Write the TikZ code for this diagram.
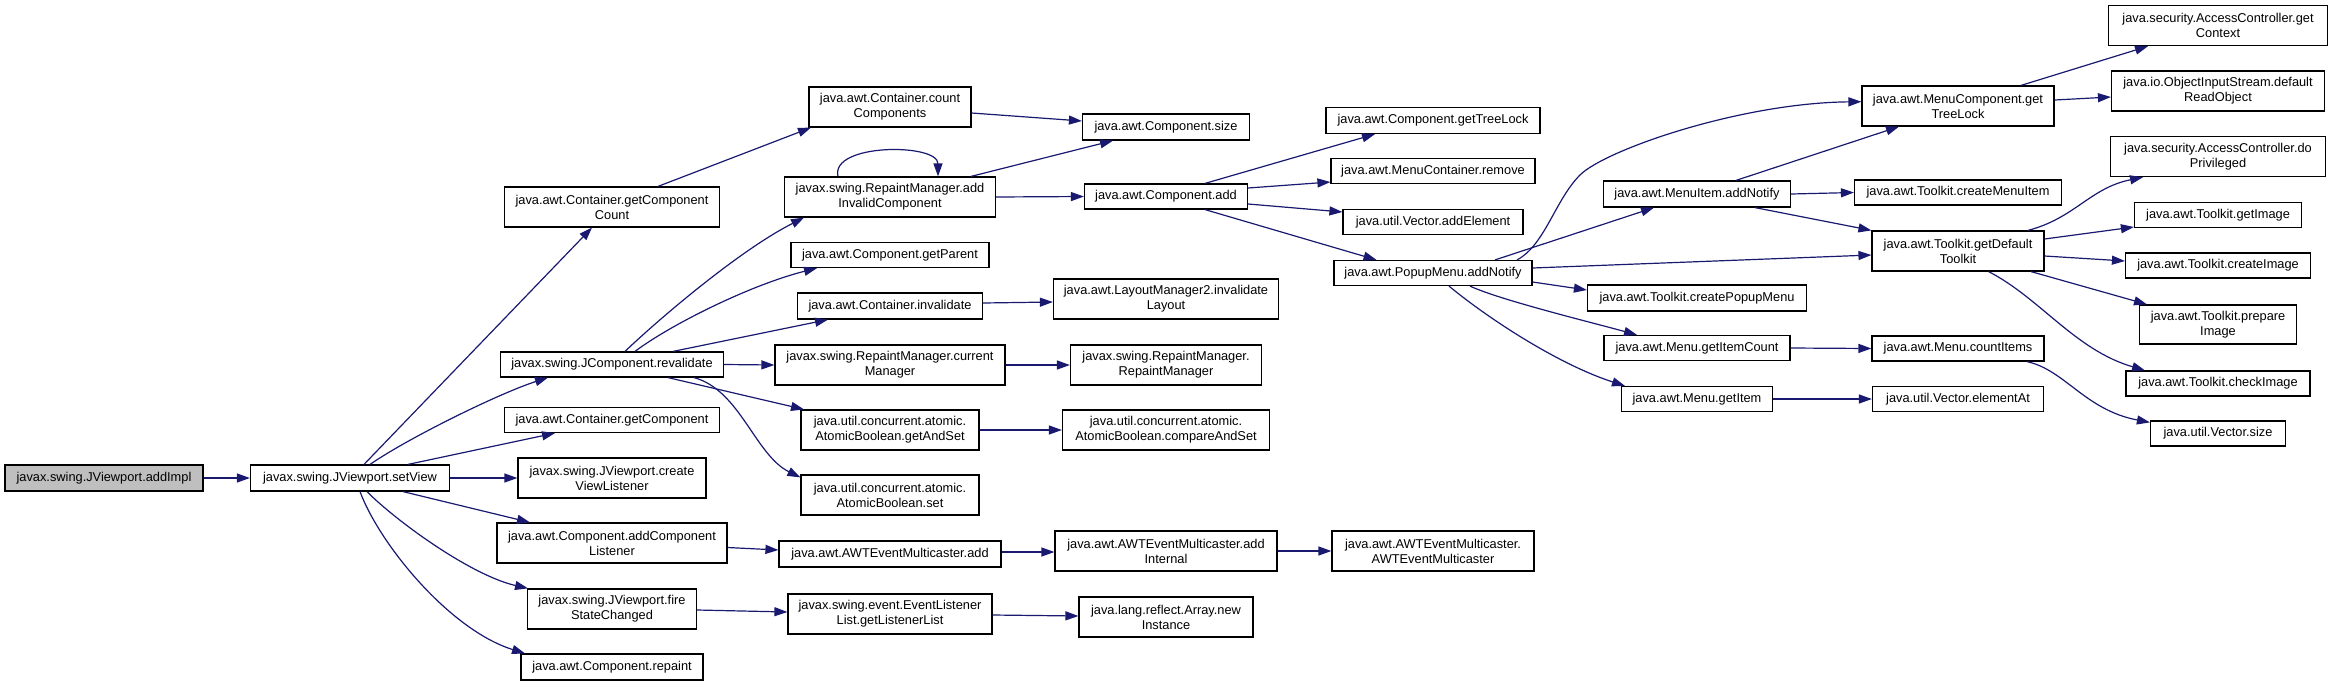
\documentclass[tikz,border=0pt]{standalone}
\usepackage{fontspec}
\setmainfont{Liberation Sans}
\usetikzlibrary{arrows.meta}
\definecolor{edgeblue}{HTML}{191970}
\definecolor{rootgray}{HTML}{BFBFBF}
\begin{document}
\begin{tikzpicture}[x=1pt,y=-1pt,
  box/.style={draw=black, line width=1.2pt, fill=white, inner sep=0pt, align=center,
    font=\fontsize{12.8}{15}\selectfont},
  rootbox/.style={box, fill=rootgray},
  callarrow/.style={draw=edgeblue, line width=1.2pt, -{Triangle[length=13pt,width=9pt]}}]
\useasboundingbox (0,0) rectangle (2333,686);
% column 0/1
\node[rootbox, minimum width=198pt, minimum height=26pt] (ai) at (104,478) {javax.swing.JViewport.addImpl};
\node[box, minimum width=199pt, minimum height=26pt] (sv) at (350,478) {javax.swing.JViewport.setView};
% column 2
\node[box, minimum width=215pt, minimum height=40pt] (gcc) at (612,207) {java.awt.Container.getComponent\\Count};
\node[box, minimum width=223pt, minimum height=25pt] (reval) at (612,364.5) {javax.swing.JComponent.revalidate};
\node[box, minimum width=215pt, minimum height=25pt] (gc) at (612,420) {java.awt.Container.getComponent};
\node[box, minimum width=188pt, minimum height=40pt] (cvl) at (612,478) {javax.swing.JViewport.create\\ViewListener};
\node[box, minimum width=230pt, minimum height=40pt] (acl) at (612,543) {java.awt.Component.addComponent\\Listener};
\node[box, minimum width=169pt, minimum height=40pt] (fsc) at (612,609) {javax.swing.JViewport.fire\\StateChanged};
\node[box, minimum width=182pt, minimum height=26pt] (rep) at (612,667) {java.awt.Component.repaint};
% column 3
\node[box, minimum width=162pt, minimum height=40pt] (cc) at (890,107) {java.awt.Container.count\\Components};
\node[box, minimum width=211pt, minimum height=40pt] (aic) at (890,197) {javax.swing.RepaintManager.add\\InvalidComponent};
\node[box, minimum width=198pt, minimum height=25pt] (gp) at (890,255) {java.awt.Component.getParent};
\node[box, minimum width=185pt, minimum height=26pt] (ci) at (890,306) {java.awt.Container.invalidate};
\node[box, minimum width=230pt, minimum height=40pt] (cm) at (890,365) {javax.swing.RepaintManager.current\\Manager};
\node[box, minimum width=178pt, minimum height=40pt] (gas) at (890,430) {java.util.concurrent.atomic.\\AtomicBoolean.getAndSet};
\node[box, minimum width=178pt, minimum height=40pt] (abs) at (890,495) {java.util.concurrent.atomic.\\AtomicBoolean.set};
\node[box, minimum width=222pt, minimum height=26pt] (aema) at (890,554) {java.awt.AWTEventMulticaster.add};
\node[box, minimum width=204pt, minimum height=40pt] (gll) at (890,614) {javax.swing.event.EventListener\\List.getListenerList};
% column 4
\node[box, minimum width=167pt, minimum height=26pt] (size) at (1166,127) {java.awt.Component.size};
\node[box, minimum width=163pt, minimum height=25pt] (cadd) at (1166,196.5) {java.awt.Component.add};
\node[box, minimum width=225pt, minimum height=40pt] (il) at (1166,299) {java.awt.LayoutManager2.invalidate\\Layout};
\node[box, minimum width=191pt, minimum height=40pt] (rmrm) at (1166,365) {javax.swing.RepaintManager.\\RepaintManager};
\node[box, minimum width=207pt, minimum height=40pt] (cas) at (1166,430) {java.util.concurrent.atomic.\\AtomicBoolean.compareAndSet};
\node[box, minimum width=222pt, minimum height=40pt] (addint) at (1166,551) {java.awt.AWTEventMulticaster.add\\Internal};
\node[box, minimum width=174pt, minimum height=40pt] (ani) at (1166,617) {java.lang.reflect.Array.new\\Instance};
% column 5
\node[box, minimum width=214pt, minimum height=26pt] (ctl) at (1433,120.5) {java.awt.Component.getTreeLock};
\node[box, minimum width=204pt, minimum height=25pt] (mcr) at (1433,171) {java.awt.MenuContainer.remove};
\node[box, minimum width=180pt, minimum height=25pt] (vae) at (1433,222) {java.util.Vector.addElement};
\node[box, minimum width=198pt, minimum height=25pt] (pan) at (1433,273) {java.awt.PopupMenu.addNotify};
\node[box, minimum width=202pt, minimum height=40pt] (aemaem) at (1433,551) {java.awt.AWTEventMulticaster.\\AWTEventMulticaster};
% column 6
\node[box, minimum width=187pt, minimum height=26pt] (mian) at (1697,194) {java.awt.MenuItem.addNotify};
\node[box, minimum width=219pt, minimum height=26pt] (cpm) at (1697,298) {java.awt.Toolkit.createPopupMenu};
\node[box, minimum width=186pt, minimum height=25pt] (gic) at (1697,348) {java.awt.Menu.getItemCount};
\node[box, minimum width=151pt, minimum height=25pt] (gi) at (1697,399) {java.awt.Menu.getItem};
% column 7
\node[box, minimum width=192pt, minimum height=40pt] (mcgtl) at (1958,106) {java.awt.MenuComponent.get\\TreeLock};
\node[box, minimum width=207pt, minimum height=25pt] (cmi) at (1958,192.5) {java.awt.Toolkit.createMenuItem};
\node[box, minimum width=172pt, minimum height=40pt] (gdt) at (1958,251) {java.awt.Toolkit.getDefault\\Toolkit};
\node[box, minimum width=172pt, minimum height=25pt] (cnt) at (1958,348.5) {java.awt.Menu.countItems};
\node[box, minimum width=171pt, minimum height=25pt] (vea) at (1958,399) {java.util.Vector.elementAt};
% column 8
\node[box, minimum width=219pt, minimum height=40pt] (gctx) at (2218,25.6) {java.security.AccessController.get\\Context};
\node[box, minimum width=213pt, minimum height=40pt] (dro) at (2218,91) {java.io.ObjectInputStream.default\\ReadObject};
\node[box, minimum width=215pt, minimum height=40pt] (dop) at (2218,156.6) {java.security.AccessController.do\\Privileged};
\node[box, minimum width=167pt, minimum height=25pt] (gim) at (2218,215) {java.awt.Toolkit.getImage};
\node[box, minimum width=185pt, minimum height=25pt] (cim) at (2218,265.5) {java.awt.Toolkit.createImage};
\node[box, minimum width=157pt, minimum height=39pt] (pim) at (2218,324.5) {java.awt.Toolkit.prepare\\Image};
\node[box, minimum width=184pt, minimum height=25pt] (chk) at (2218,383.5) {java.awt.Toolkit.checkImage};
\node[box, minimum width=135pt, minimum height=25pt] (vsz) at (2218,433.5) {java.util.Vector.size};
% edges
\draw[callarrow] (ai.east) -- (sv.west);
\draw[callarrow] ([xshift=14pt]sv.north) -- ([xshift=-20pt]gcc.south);
\draw[callarrow] ([xshift=20pt]sv.north) .. controls (410,437) and (500,393) .. ([xshift=-64pt]reval.south);
\draw[callarrow] ([xshift=58pt]sv.north) -- ([xshift=-57pt]gc.south);
\draw[callarrow] (sv.east) -- (cvl.west);
\draw[callarrow] ([xshift=53pt]sv.south) -- ([xshift=-82pt]acl.north);
\draw[callarrow] ([xshift=17pt]sv.south) .. controls (395,520) and (470,575) .. ([xshift=-84pt]fsc.north);
\draw[callarrow] ([xshift=10pt]sv.south) .. controls (380,545) and (450,630) .. ([xshift=-87pt]rep.north);
\draw[callarrow] ([xshift=46pt]gcc.north) -- ([xshift=-79pt]cc.south);
\draw[callarrow] ([xshift=13pt]reval.north) .. controls (660,318) and (740,250) .. ([xshift=-86pt]aic.south);
\draw[callarrow] ([xshift=23pt]reval.north) .. controls (670,325) and (750,285) .. ([xshift=-73pt]gp.south);
\draw[callarrow] ([xshift=61pt]reval.north) -- ([xshift=-62pt]ci.south);
\draw[callarrow] (reval.east) -- (cm.west);
\draw[callarrow] ([xshift=56pt]reval.south) -- ([xshift=-86pt]gas.north);
\draw[callarrow] ([xshift=82pt]reval.south) .. controls (740,390) and (755,455) .. ([yshift=-3pt]abs.north west);
\draw[callarrow] ([yshift=-6pt]cc.east) -- ([yshift=6pt]size.west);
\draw[callarrow] ([xshift=81pt]aic.north) -- ([xshift=-53pt]size.south);
\draw[callarrow] ([xshift=-52pt]aic.north) .. controls (830,143) and (938,143) .. ([xshift=48pt]aic.north);
\draw[callarrow] (aic.east) -- (cadd.west);
\draw[callarrow] ([yshift=3pt]ci.east) -- ([yshift=-3pt]il.west);
\draw[callarrow] (cm.east) -- (rmrm.west);
\draw[callarrow] (gas.east) -- (cas.west);
\draw[callarrow] ([yshift=-4.5pt]acl.east) -- ([yshift=4pt]aema.west);
\draw[callarrow] ([yshift=2pt]aema.east) -- ([yshift=-1pt]addint.west);
\draw[callarrow] (addint.east) -- (aemaem.west);
\draw[callarrow] ([yshift=-1pt]fsc.east) -- ([yshift=2pt]gll.west);
\draw[callarrow] ([yshift=-1pt]gll.east) -- ([yshift=1pt]ani.west);
\draw[callarrow] ([xshift=39pt]cadd.north) -- ([xshift=-58pt]ctl.south);
\draw[callarrow] ([yshift=8.5pt]cadd.east) -- ([yshift=-11pt]mcr.west);
\draw[callarrow] ([yshift=-7.5pt]cadd.east) -- ([yshift=10pt]vae.west);
\draw[callarrow] ([xshift=39pt]cadd.south) -- ([xshift=-56.5pt]pan.north);
\draw[callarrow] ([xshift=84pt]pan.north) .. controls (1545,245) and (1555,200) .. (1580,175)
   .. controls (1605,150) and (1740,103) .. ([yshift=4.3pt]mcgtl.west);
\draw[callarrow] ([xshift=62pt]pan.north) -- ([xshift=-43pt]mian.south);
\draw[callarrow] ([yshift=5pt]pan.east) -- ([yshift=-4pt]gdt.west);
\draw[callarrow] ([yshift=-9pt]pan.east) -- ([yshift=8pt]cpm.west);
\draw[callarrow] ([xshift=37pt]pan.south) .. controls (1500,300) and (1590,322) .. ([xshift=-60pt]gic.north);
\draw[callarrow] ([xshift=16pt]pan.south) .. controls (1490,320) and (1560,365) .. ([xshift=-72pt]gi.north);
\draw[callarrow] ([xshift=39pt]mian.north) -- ([xshift=-59pt]mcgtl.south);
\draw[callarrow] (mian.east) -- (cmi.west);
\draw[callarrow] ([xshift=58pt]mian.south) -- (gdt.north west);
\draw[callarrow] (gic.east) -- (cnt.west);
\draw[callarrow] (gi.east) -- (vea.west);
\draw[callarrow] ([xshift=63pt]mcgtl.north) -- ([xshift=-70pt]gctx.south);
\draw[callarrow] ([yshift=6pt]mcgtl.east) -- ([yshift=-6pt]dro.west);
\draw[callarrow] ([xshift=70pt]gdt.north) .. controls (2075,218) and (2090,188) .. ([xshift=-75pt]dop.south);
\draw[callarrow] ([yshift=12pt]gdt.east) -- ([yshift=-12pt]gim.west);
\draw[callarrow] ([yshift=-5pt]gdt.east) -- ([yshift=4.5pt]cim.west);
\draw[callarrow] ([xshift=73pt]gdt.south) -- ([xshift=-71pt]pim.north);
\draw[callarrow] ([xshift=30.6pt]gdt.south) .. controls (2040,298) and (2075,350) .. ([xshift=-73pt]chk.north);
\draw[callarrow] ([xshift=69pt]cnt.south) .. controls (2065,370) and (2085,410) .. ([yshift=-2pt]vsz.north west);
\end{tikzpicture}
\end{document}
